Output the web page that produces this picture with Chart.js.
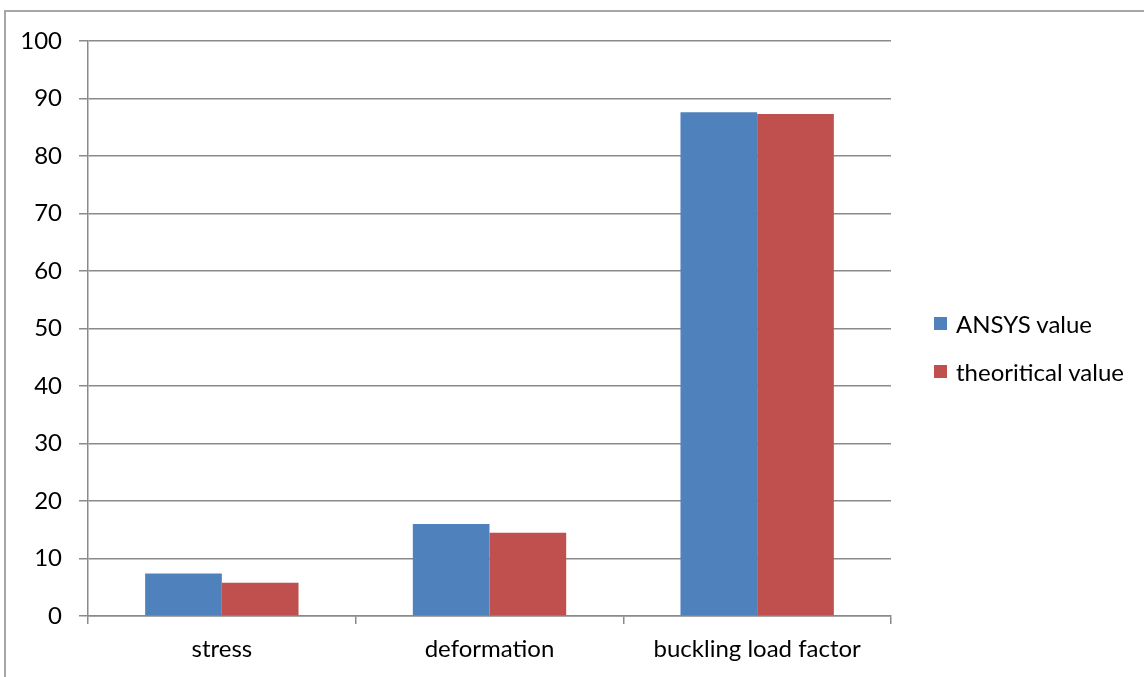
<!DOCTYPE html>
<html>
<head>
<meta charset="utf-8">
<script src="https://cdn.jsdelivr.net/npm/chart.js@4/dist/chart.umd.min.js"></script>
<style>
  html, body { margin: 0; padding: 0; background: #fff; }
  #wrap { position: relative; width: 1144px; height: 677px; overflow: hidden; }
  #frame { position: absolute; left: 4px; top: 10px; width: 1200px; height: 800px;
           border-left: 2px solid #a6a6a6; border-top: 2px solid #a6a6a6; }
  #legend { position: absolute; left: 934px; top: 299px; font-family: Lato, sans-serif; font-size: 24px; color: #000; }
  .item { display: flex; align-items: center; height: 48px; }
  .box { width: 13px; height: 13px; margin-right: 9px; }
</style>
</head>
<body>
<div id="wrap">
  <div id="frame"></div>
  <canvas id="chart" width="1144" height="677"></canvas>
  <div id="legend"></div>
</div>
<script>
const categories = ['stress', 'deformation', 'buckling load factor'];
const seriesNames = ['ANSYS value', 'theoritical value'];
const ansysValues = [7.4, 16.0, 87.6];
const theoryValues = [5.8, 14.5, 87.3];
const colors = ['#4F81BD', '#C0504D'];

const gridColor = '#8a8a8a';
const font = { family: 'Lato, sans-serif', size: 24 };

const ctx = document.getElementById('chart').getContext('2d');
const myChart = new Chart(ctx, {
  type: 'bar',
  data: {
    labels: categories,
    datasets: [
      { label: seriesNames[0], data: ansysValues, backgroundColor: colors[0] },
      { label: seriesNames[1], data: theoryValues, backgroundColor: colors[1] }
    ]
  },
  options: {
    responsive: false,
    animation: false,
    categoryPercentage: 0.573,
    barPercentage: 1,
    layout: { padding: { left: 0, top: 41, right: 253, bottom: 0 } },
    plugins: { legend: { display: false }, tooltip: { enabled: false } },
    scales: {
      x: {
        grid: { offset: true, drawOnChartArea: false, drawTicks: true, tickLength: 8, color: gridColor, lineWidth: 1.5 },
        border: { display: true, color: gridColor, width: 1.5 },
        ticks: { color: '#000', font: font, padding: 11 },
        afterFit: (scale) => { scale.height = 61; scale.paddingLeft = 0; scale.paddingRight = 0; }
      },
      y: {
        min: 0,
        max: 100,
        ticks: { stepSize: 10, color: '#000', font: font, padding: 17 },
        grid: { drawTicks: true, tickLength: 9, color: gridColor, lineWidth: 1.5 },
        border: { display: true, color: gridColor, width: 1.5 },
        afterFit: (scale) => { scale.width = 88; scale.paddingTop = 0; scale.paddingBottom = 0; }
      }
    }
  }
});

// legend drawn as html so it can sit where the original has it
const legendEl = document.getElementById('legend');
seriesNames.forEach((name, i) => {
  legendEl.innerHTML += `<div class="item"><span class="box" style="background:${colors[i]}"></span>${name}</div>`;
});
</script>
</body>
</html>
